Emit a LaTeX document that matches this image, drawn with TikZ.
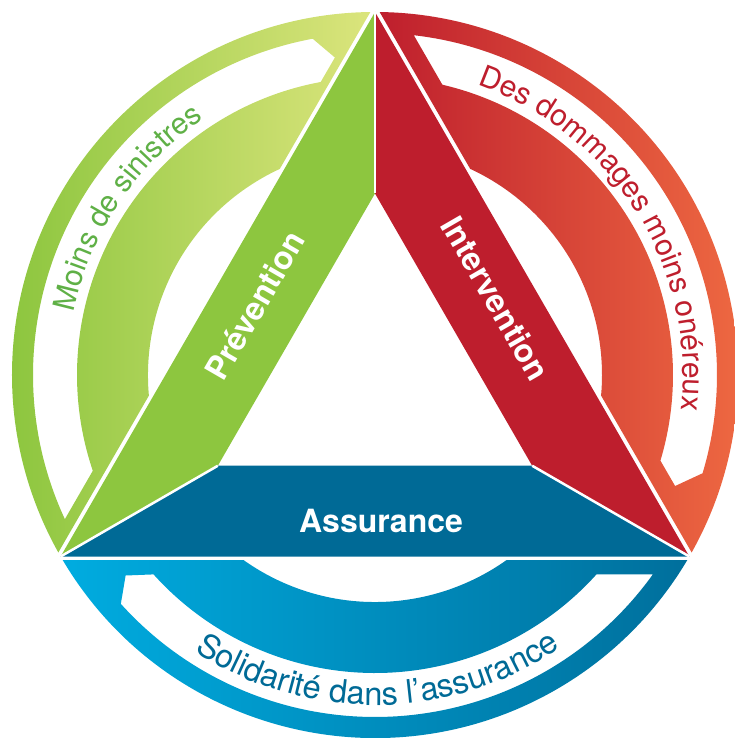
\documentclass[tikz,border=0pt]{standalone}
\usepackage{fontspec}
\setmainfont{TeX Gyre Heros}
\usetikzlibrary{decorations.text}

\definecolor{prevgreen}{HTML}{8DC63F}
\definecolor{prevlight}{HTML}{DCE57D}
\definecolor{prevtext}{HTML}{5FB046}
\definecolor{intred}{HTML}{BE1E2D}
\definecolor{intorange}{HTML}{F47244}
\definecolor{assblue}{HTML}{006A96}
\definecolor{asscyan}{HTML}{00ACE0}
\definecolor{assdark}{HTML}{006F9C}

\tikzset{
  bandlabel/.style={text=white, font=\fontsize{32}{38}\selectfont\bfseries, inner sep=0pt},
  gapline/.style={white, line width=2.5pt},
}
\newcommand{\arcfont}{\fontsize{30}{36}\selectfont}
\newcommand{\arcfontbig}{\fontsize{32.5}{38}\selectfont}

\begin{document}
\begin{tikzpicture}[x=1pt, y=1pt]
  \useasboundingbox (-375,-363) rectangle (360,375);

  % corners of the triangle and of the inner triangle
  \coordinate (T) at (90:363);
  \coordinate (L) at (210:363);
  \coordinate (R) at (330:363);
  \coordinate (iT) at (90:181.5);
  \coordinate (iL) at (210:181.5);
  \coordinate (iR) at (330:181.5);

  % outer arcs: rotation/left colour/right colour/cut offset/notch base/notch tip
  \foreach \rot/\ca/\cb/\cut/\base/\tip in {240/prevgreen/prevlight/15/220.5/217.2,
      120/intred/intorange/22/223.3/219.7, 0/asscyan/assdark/18/222/218.8}{
    \pgfmathsetmacro\ao{\rot+360-asin((181.5+\cut)/342)}
    \pgfmathsetmacro\ai{\rot+360-asin((181.5+\cut)/298)}
    \begin{scope}
      \clip[rotate=\rot] (-400,-185.5) rectangle (400,-400);
      \shade[left color=\ca, right color=\cb, even odd rule]
        ({\rot+210}:363) arc[start angle=\rot+210, end angle=\rot+330, radius=363]
        -- ({\rot+330}:227) arc[start angle=\rot+330, end angle=\rot+210, radius=227] -- cycle
        (\ao:342) arc[start angle=\ao, end angle=\rot+\base, radius=342]
        -- ({\rot+\tip}:320) -- ({\rot+\base}:298)
        arc[start angle=\rot+\base, end angle=\ai, radius=298] -- cycle;
    \end{scope}
  }

  % bands of the triangle
  \fill[prevgreen] (T) -- (L) -- (iL) -- (iT) -- cycle;
  \fill[intred] (T) -- (iT) -- (iR) -- (R) -- cycle;
  \fill[assblue] (L) -- (R) -- (iR) -- (iL) -- cycle;
  \draw[gapline] (T) -- (iT);
  \draw[gapline] (L) -- (iL);
  \draw[gapline] (R) -- (iR);

  \node[bandlabel, rotate=60] (prev) at (150:139) {Prévention};
  \node[bandlabel, rotate=-60] (inter) at (32.3:143) {Intervention};
  \node[bandlabel] (assur) at (6,-146) {Assurance};

  % texts along the arcs
  \path[decorate, decoration={text along path, text align=center, text color=prevtext,
      text={|\arcfont|Moins de sinistres}}]
    (196:308) arc[start angle=196, end angle=96, radius=308];
  \path[decorate, decoration={text along path, text align=center, text color=intred,
      text={|\arcfont|Des dommages moins onéreux}}]
    (95:308) arc[start angle=95, end angle=-31, radius=308];
  \path[decorate, decoration={text along path, text align=center, text color=assblue,
      text={|\arcfontbig|Solidarité dans l’assurance}}]
    (210:330) arc[start angle=210, end angle=331, radius=330];
\end{tikzpicture}
\end{document}
